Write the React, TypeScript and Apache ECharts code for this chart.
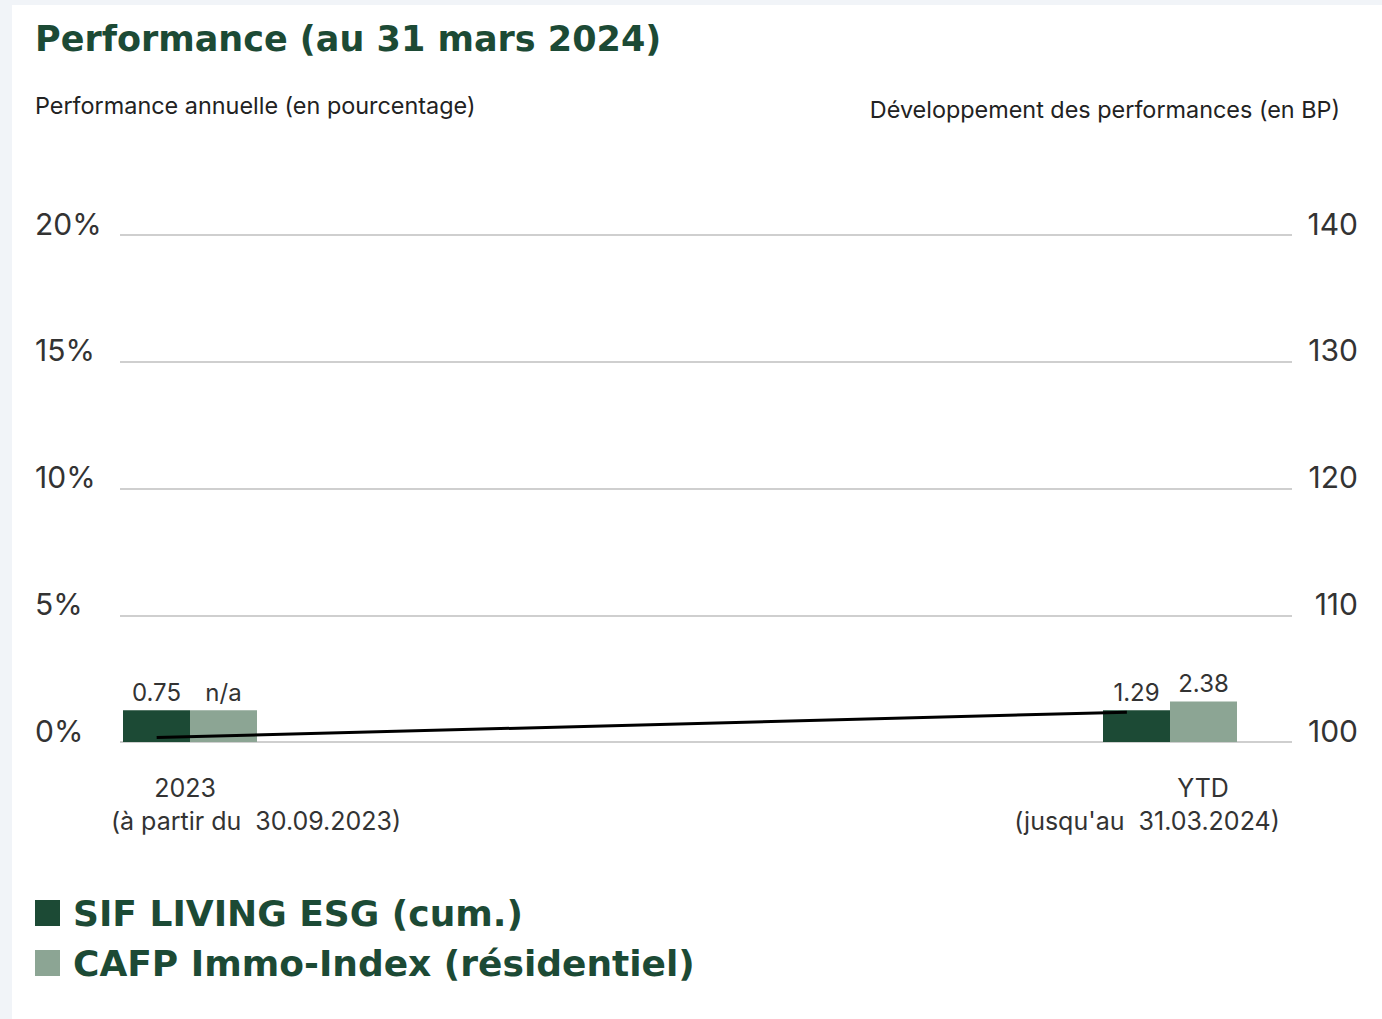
import React, { useEffect, useRef } from "react";
import * as echarts from "echarts";

const categories = ["2023", "YTD"];
const categorySubtitles = ["(à partir du  30.09.2023)", "(jusqu'au  31.03.2024)"];
const seriesNames = ["SIF LIVING ESG (cum.)", "CAFP Immo-Index (résidentiel)"];
// bar heights as drawn (percent axis)
const sifBarValues = [1.25, 1.25];
const cafpBarValues = [1.25, 1.6];
// printed labels
const sifLabels = ["0.75", "1.29"];
const cafpLabels = ["n/a", "2.38"];
// performance development line (BP axis), x in category units
const lineX = [-0.034, 0.956];
const lineValues = [100.35, 102.35];
const leftTicks = [0, 5, 10, 15, 20];
const rightTicks = [100, 110, 120, 130, 140];

const DARK = "#1c4a35";
const LIGHT = "#8ca594";
const TEXT = "#333333";
const FONT = "Inter, Roboto, sans-serif";
const BOLD_FONT = "'DejaVu Sans', sans-serif";

export default function App() {
  const ref = useRef<HTMLDivElement>(null);
  useEffect(() => {
    document.body.style.margin = "0";
    const chart = echarts.init(ref.current!, null, { renderer: "svg" });
    chart.setOption({
      animation: false,
      title: {
        text: "Performance (au 31 mars 2024)",
        left: 30,
        top: 16,
        textStyle: { fontSize: 35, fontWeight: "bold", color: DARK, fontFamily: BOLD_FONT },
      },
      graphic: [
        {
          type: "text",
          left: 35,
          top: 94,
          style: { text: "Performance annuelle (en pourcentage)", fontSize: 23.4, fill: "#222", fontFamily: FONT },
        },
        {
          type: "text",
          right: 42,
          top: 98,
          style: { text: "Développement des performances (en BP)", fontSize: 23.4, fill: "#222", fontFamily: FONT },
        },
      ],
      legend: {
        data: seriesNames,
        orient: "vertical",
        left: 35,
        top: 893,
        padding: 0,
        icon: "rect",
        itemWidth: 25,
        itemHeight: 26,
        itemGap: 10,
        textStyle: {
          fontSize: 36,
          fontWeight: "bold",
          color: DARK,
          lineHeight: 40,
          padding: [0, 0, 0, 8],
          fontFamily: BOLD_FONT,
        },
      },
      grid: { left: 120, right: 90, top: 235, bottom: 277, containLabel: false, outerBoundsMode: "none" },
      xAxis: {
        type: "value",
        min: -70 / 980,
        max: 1 + 122 / 980,
        axisLine: { show: false },
        axisTick: { show: false },
        splitLine: { show: false },
        axisLabel: {
          customValues: [0, 1],
          margin: 29,
          formatter: (v: number) => {
            const i = Math.round(v);
            return `{a${i}|${categories[i]}}\n{b${i}|${categorySubtitles[i]}}`;
          },
          rich: {
            a0: { fontSize: 25, color: TEXT, lineHeight: 33, fontFamily: FONT, padding: [0, 10, 0, 0] },
            b0: { fontSize: 25, color: TEXT, lineHeight: 33, fontFamily: FONT, padding: [0, 0, 0, 132] },
            a1: { fontSize: 25, color: TEXT, lineHeight: 33, fontFamily: FONT, padding: [0, 0, 0, 66] },
            b1: { fontSize: 25, color: TEXT, lineHeight: 33, fontFamily: FONT, padding: [0, 46, 0, 0] },
          },
        },
      },
      yAxis: [
        {
          type: "value",
          min: leftTicks[0],
          max: leftTicks[leftTicks.length - 1],
          interval: 5,
          axisLine: { show: false },
          axisTick: { show: false },
          splitLine: { lineStyle: { color: "#cfcfcf", width: 2 } },
          axisLabel: {
            formatter: "{value}%",
            align: "left",
            margin: 85,
            verticalAlign: "bottom",
            lineHeight: 23,
            fontSize: 30,
            color: TEXT,
            fontFamily: FONT,
          },
        },
        {
          type: "value",
          min: rightTicks[0],
          max: rightTicks[rightTicks.length - 1],
          interval: 10,
          axisLine: { show: false },
          axisTick: { show: false },
          splitLine: { show: false },
          axisLabel: {
            align: "right",
            margin: 66,
            verticalAlign: "bottom",
            lineHeight: 23,
            fontSize: 30,
            color: TEXT,
            fontFamily: FONT,
          },
        },
      ],
      series: [
        {
          name: seriesNames[0],
          type: "bar",
          barWidth: 67,
          barGap: "0%",
          itemStyle: { color: DARK },
          data: sifBarValues.map((v, i) => [i, v]),
          label: {
            show: true,
            position: "top",
            distance: 6,
            fontSize: 24,
            color: TEXT,
            fontFamily: FONT,
            formatter: (p: any) => sifLabels[p.dataIndex],
          },
        },
        {
          name: seriesNames[1],
          type: "bar",
          barWidth: 67,
          barGap: "0%",
          itemStyle: { color: LIGHT },
          data: cafpBarValues.map((v, i) => [i, v]),
          label: {
            show: true,
            position: "top",
            distance: 6,
            fontSize: 24,
            color: TEXT,
            fontFamily: FONT,
            formatter: (p: any) => cafpLabels[p.dataIndex],
          },
        },
        {
          name: "Développement",
          type: "line",
          yAxisIndex: 1,
          symbol: "none",
          z: 5,
          lineStyle: { color: "#000", width: 3 },
          data: lineX.map((x, i) => [x, lineValues[i]]),
        },
      ],
    });
    return () => chart.dispose();
  }, []);
  return (
    <div style={{ position: "fixed", left: 0, top: 0, width: 1382, height: 1019, background: "#f1f4f8" }}>
      <div style={{ position: "absolute", left: 12, top: 5, width: 1370, height: 1014, background: "#ffffff" }} />
      <div ref={ref} style={{ position: "absolute", left: 0, top: 0, width: 1382, height: 1019 }} />
    </div>
  );
}
